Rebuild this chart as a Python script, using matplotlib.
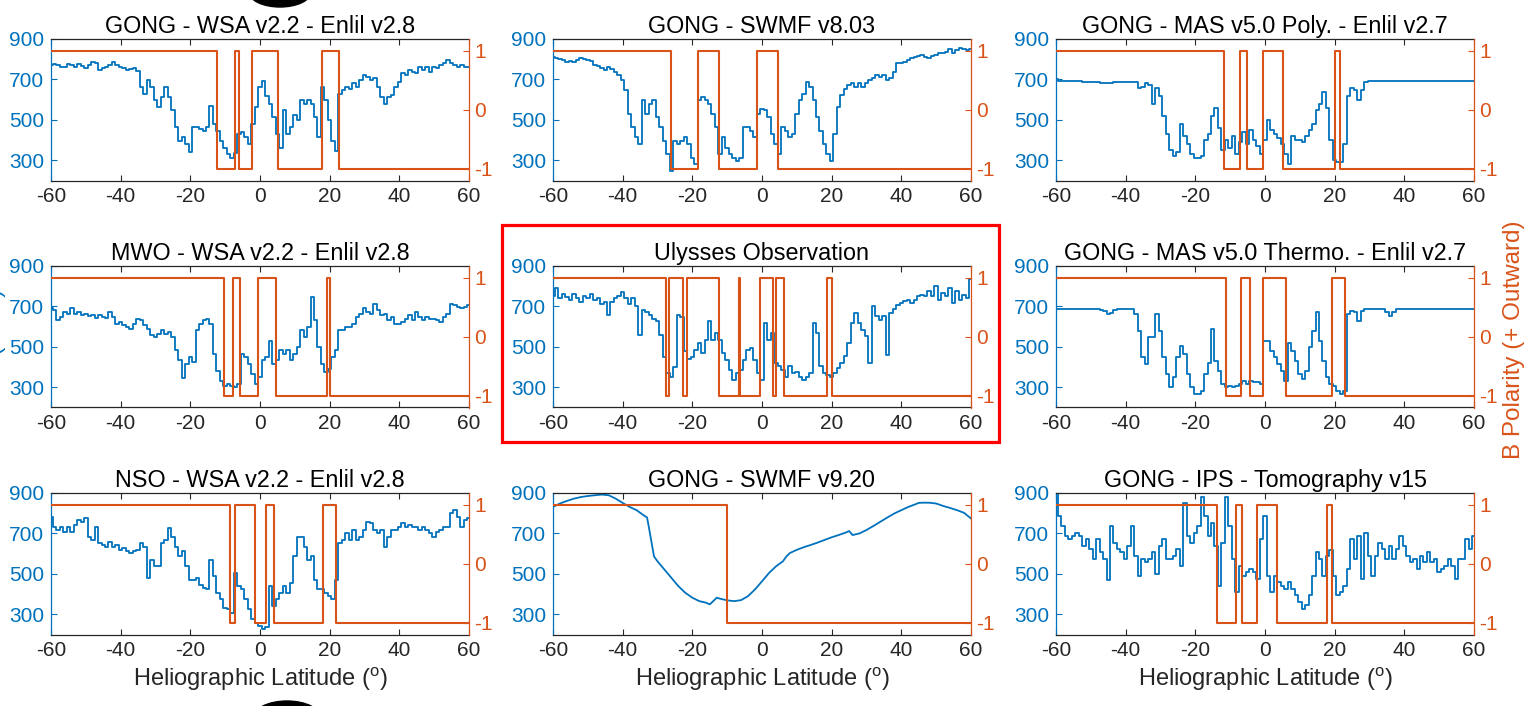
import numpy as np
import matplotlib
matplotlib.use('Agg')
import matplotlib.pyplot as plt
from matplotlib.patches import Rectangle, Ellipse

plt.rcParams['font.family'] = ['Liberation Sans', 'DejaVu Sans']
plt.rcParams['mathtext.fontset'] = 'custom'
plt.rcParams['mathtext.rm'] = 'Liberation Sans'
plt.rcParams['mathtext.it'] = 'Liberation Sans'
plt.rcParams['axes.unicode_minus'] = False

BLUE = '#0072BD'
ORANGE = '#D95319'
DARK = '#262626'

# ---------------- data ----------------
lat_1deg = list(range(-60, 61))
x_ticks = [-60, -40, -20, 0, 20, 40, 60]
speed_ticks = [300, 500, 700, 900]
pol_ticks = [-1, 0, 1]

titles = [
    "GONG - WSA v2.2 - Enlil v2.8",
    "GONG - SWMF v8.03",
    "GONG - MAS v5.0 Poly. - Enlil v2.7",
    "MWO - WSA v2.2 - Enlil v2.8",
    "Ulysses Observation",
    "GONG - MAS v5.0 Thermo. - Enlil v2.7",
    "NSO - WSA v2.2 - Enlil v2.8",
    "GONG - SWMF v9.20",
    "GONG - IPS - Tomography v15",
]

speed_gong_wsa = [
    770, 775, 772, 760, 763, 775, 770, 760, 775, 765,
    755, 770, 788, 780, 747, 755, 763, 770, 788, 770,
    763, 755, 747, 750, 755, 740, 663, 630, 697, 663,
    597, 563, 613, 663, 613, 547, 463, 397, 413, 380,
    340, 463, 463, 455, 447, 463, 570, 480, 447, 397,
    363, 330, 313, 338, 430, 438, 413, 380, 480, 563,
    663, 690, 620, 580, 513, 430, 363, 547, 430, 463,
    522, 497, 597, 580, 597, 580, 513, 413, 663, 597,
    497, 397, 347, 630, 647, 663, 655, 680, 663, 697,
    722, 713, 697, 705, 663, 613, 580, 613, 622, 663,
    688, 730, 722, 747, 738, 730, 763, 747, 763, 738,
    763, 755, 772, 780, 797, 780, 772, 763, 772, 763,
    763]
pol_lat_gong_wsa = [-60, -12.4, -7.3, -6.1, -2.2, 5.2, 17.7, 22.8, 60]
pol_val_gong_wsa = [1, -1, 1, -1, 1, -1, 1, -1, -1]

speed_swmf803 = [
    810, 805, 800, 795, 788, 790, 788, 795, 805, 800,
    797, 790, 772, 765, 755, 745, 763, 750, 738, 722,
    697, 647, 530, 463, 413, 380, 597, 530, 580, 597,
    513, 463, 397, 330, 245, 397, 380, 397, 413, 380,
    313, 280, 597, 613, 597, 580, 530, 463, 330, 413,
    363, 330, 313, 297, 313, 463, 463, 447, 413, 530,
    555, 547, 513, 430, 380, 330, 463, 447, 413, 430,
    530, 597, 630, 688, 663, 597, 513, 447, 380, 330,
    297, 430, 563, 622, 655, 672, 680, 663, 680, 663,
    680, 697, 705, 722, 713, 722, 697, 705, 738, 780,
    780, 788, 797, 805, 813, 817, 822, 810, 805, 817,
    822, 830, 830, 838, 850, 833, 847, 855, 850, 847,
    850]
pol_lat_swmf803 = [-60, -26.0, -18.5, -12.3, -1.3, 4.6, 60]
pol_val_swmf803 = [1, -1, 1, -1, 1, -1, -1]

speed_mas_poly = [
    700, 690, 690, 690, 690, 690, 690, 690, 688, 688,
    688, 688, 686, 684, 680, 680, 680, 686, 688, 688,
    688, 688, 688, 685, 660, 665, 683, 670, 580, 660,
    620, 520, 430, 350, 320, 340, 480, 420, 380, 330,
    310, 310, 320, 400, 430, 520, 560, 460, 350, 400,
    360, 420, 330, 390, 440, 380, 450, 400, 370, 330,
    400, 500, 450, 430, 410, 380, 330, 280, 420, 400,
    400, 390, 420, 450, 480, 550, 580, 640, 560, 400,
    300, 290, 290, 380, 620, 660, 650, 600, 650, 685,
    690, 690, 690, 690, 690, 690, 690, 690, 690, 690,
    690, 690, 690, 690, 690, 690, 690, 690, 690, 690,
    690, 690, 690, 690, 690, 690, 690, 690, 690, 690,
    690]
pol_lat_mas_poly = [-60, -11.8, -7.3, -5.3, -0.6, 5.2, 20.0, 21.5, 60]
pol_val_mas_poly = [1, -1, 1, -1, 1, -1, 1, -1, -1]

speed_mwo = [
    690, 681, 632, 648, 673, 665, 690, 665, 673, 656,
    665, 651, 656, 645, 656, 648, 645, 673, 648, 615,
    623, 607, 598, 590, 615, 640, 632, 607, 590, 557,
    549, 565, 582, 565, 574, 549, 482, 433, 345, 416,
    449, 425, 582, 615, 632, 640, 615, 466, 383, 333,
    308, 317, 308, 300, 317, 466, 449, 416, 366, 317,
    350, 433, 449, 530, 416, 433, 482, 466, 482, 433,
    466, 499, 582, 549, 598, 748, 632, 499, 416, 375,
    391, 449, 482, 582, 582, 598, 598, 615, 648, 665,
    690, 673, 665, 714, 681, 656, 665, 632, 648, 615,
    615, 623, 640, 656, 632, 673, 648, 632, 648, 640,
    640, 632, 623, 648, 665, 714, 706, 698, 690, 698,
    706]
pol_lat_mwo = [-60, -10.2, -7.8, -5.8, -0.7, 4.6, 19.3, 20.2, 60]
pol_val_mwo = [1, -1, 1, -1, 1, -1, 1, -1, -1]

speed_ulysses = [
    750, 790, 740, 760, 745, 730, 760, 740, 720, 750,
    740, 760, 730, 740, 710, 720, 660, 720, 740, 750,
    770, 740, 710, 740, 700, 560, 680, 670, 660, 640,
    630, 560, 450, 370, 350, 400, 660, 650, 480, 440,
    450, 486, 519, 469, 535, 630, 535, 569, 535, 469,
    436, 386, 337, 370, 386, 436, 486, 494, 436, 370,
    337, 620, 535, 569, 420, 403, 386, 353, 403, 370,
    378, 353, 337, 353, 370, 618, 569, 403, 370, 362,
    353, 370, 395, 420, 453, 519, 618, 668, 618, 585,
    552, 420, 701, 651, 635, 651, 460, 668, 685, 709,
    718, 726, 734, 718, 734, 751, 759, 751, 776, 751,
    801, 734, 768, 751, 792, 718, 776, 734, 759, 743,
    834]
pol_lat_ulysses = [-60, -27.6, -26.8, -22.8, -21.4, -12.3, -6.55, -6.45,
                   -0.6, 3.1, 3.9, 6.2, 18.6, 20.1, 60]
pol_val_ulysses = [1, -1, 1, -1, 1, -1, 1, -1, 1, -1, 1, -1, 1, -1, -1]

speed_mas_thermo = [
    686, 686, 686, 686, 686, 686, 686, 686, 686, 686,
    686, 686, 686, 684, 678, 665, 668, 680, 686, 686,
    686, 686, 686, 662, 579, 448, 415, 547, 547, 662,
    579, 448, 366, 300, 349, 448, 505, 464, 366, 300,
    267, 267, 283, 366, 420, 590, 430, 380, 316, 300,
    308, 300, 308, 316, 333, 316, 333, 325, 325, 316,
    530, 530, 481, 448, 415, 382, 333, 520, 480, 431,
    366, 340, 382, 497, 579, 670, 530, 431, 349, 316,
    308, 283, 267, 283, 662, 678, 670, 629, 678, 686,
    686, 686, 686, 686, 686, 670, 655, 670, 686, 686,
    686, 686, 686, 686, 686, 686, 686, 686, 686, 686,
    686, 686, 686, 686, 686, 686, 686, 686, 686, 686,
    686]
pol_lat_mas_thermo = [-60, -11.1, -6.8, -4.3, -0.6, 5.9, 19.1, 22.9, 60]
pol_val_mas_thermo = [1, -1, 1, -1, 1, -1, 1, -1, -1]

speed_nso = [
    782, 733, 717, 733, 709, 733, 709, 741, 766, 758,
    774, 684, 668, 733, 652, 643, 635, 660, 635, 643,
    619, 627, 611, 602, 611, 619, 652, 635, 480, 570,
    537, 537, 652, 668, 725, 684, 635, 586, 611, 537,
    472, 472, 480, 447, 431, 423, 570, 488, 406, 374,
    333, 324, 308, 504, 439, 423, 374, 324, 275, 259,
    243, 226, 235, 439, 341, 374, 406, 439, 406, 455,
    586, 684, 684, 635, 570, 586, 472, 423, 423, 406,
    390, 374, 472, 652, 668, 701, 668, 717, 668, 684,
    717, 758, 750, 717, 701, 717, 635, 684, 717, 717,
    733, 750, 733, 741, 733, 733, 717, 733, 717, 701,
    684, 709, 717, 733, 733, 799, 815, 782, 733, 766,
    774]
pol_lat_nso = [-60, -8.7, -7.1, -1.3, 1.6, 4.0, 18.0, 21.7, 60]
pol_val_nso = [1, -1, 1, -1, 1, -1, 1, -1, -1]

lat_swmf920 = [
    -60, -58, -56, -54, -52, -50, -48, -46, -44, -42,
    -40, -38, -36, -34, -33, -32.5, -32, -31.5, -31, -30,
    -28, -26, -24, -22, -20, -18, -16, -15, -14, -13,
    -12, -10, -8, -6, -4, -2, 0, 2, 4, 6,
    7, 8, 10, 12, 14, 16, 18, 20, 22, 24,
    25, 26, 28, 30, 32, 34, 36, 38, 40, 42,
    44, 45, 46, 48, 50, 52, 54, 56, 58, 60]
speed_swmf920 = [
    831, 848, 861, 872, 880, 885, 889, 892, 889, 872,
    851, 831, 815, 790, 779, 733, 684, 635, 586, 562,
    521, 480, 439, 406, 382, 365, 357, 349, 365, 382,
    377, 369, 365, 370, 390, 423, 463, 504, 537, 562,
    586, 603, 619, 632, 643, 655, 668, 681, 692, 704,
    712, 692, 700, 717, 737, 758, 779, 799, 815, 831,
    844, 851, 852, 852, 848, 836, 826, 815, 802, 774]
pol_lat_swmf920 = [-60, -10.1, 60]
pol_val_swmf920 = [1, -1, -1]

speed_ips = [
    900, 786, 737, 687, 671, 687, 704, 687, 638, 671,
    622, 573, 671, 606, 573, 470, 737, 655, 622, 606,
    573, 638, 737, 589, 491, 573, 557, 573, 606, 500,
    638, 671, 573, 573, 589, 622, 540, 850, 687, 655,
    704, 737, 880, 786, 687, 753, 638, 442, 655, 880,
    737, 573, 409, 540, 491, 508, 524, 508, 475, 671,
    786, 491, 409, 491, 459, 442, 426, 459, 426, 393,
    360, 328, 344, 393, 491, 606, 573, 491, 589, 620,
    491, 393, 409, 442, 524, 671, 573, 687, 475, 704,
    589, 491, 589, 655, 622, 573, 638, 573, 622, 687,
    638, 589, 557, 573, 524, 589, 557, 606, 557, 573,
    508, 524, 540, 573, 540, 475, 573, 573, 671, 622,
    687]
pol_lat_ips = [-60, -13.7, -8.2, -6.6, -2.2, 3.5, 17.7, 19.3, 60]
pol_val_ips = [1, -1, 1, -1, 1, -1, 1, -1, -1]

panels = [
    (lat_1deg, speed_gong_wsa, pol_lat_gong_wsa, pol_val_gong_wsa, 'steps-mid'),
    (lat_1deg, speed_swmf803, pol_lat_swmf803, pol_val_swmf803, 'steps-mid'),
    (lat_1deg, speed_mas_poly, pol_lat_mas_poly, pol_val_mas_poly, 'steps-mid'),
    (lat_1deg, speed_mwo, pol_lat_mwo, pol_val_mwo, 'steps-mid'),
    (lat_1deg, speed_ulysses, pol_lat_ulysses, pol_val_ulysses, 'steps-mid'),
    (lat_1deg, speed_mas_thermo, pol_lat_mas_thermo, pol_val_mas_thermo, 'steps-mid'),
    (lat_1deg, speed_nso, pol_lat_nso, pol_val_nso, 'steps-mid'),
    (lat_swmf920, speed_swmf920, pol_lat_swmf920, pol_val_swmf920, 'default'),
    (lat_1deg, speed_ips, pol_lat_ips, pol_val_ips, 'steps-mid'),
]

# ---------------- layout ----------------
W, H = 1531, 706
fig = plt.figure(figsize=(W / 100, H / 100), dpi=100)
fig.patch.set_facecolor('white')

col_left = [51, 553, 1056]
row_top = [39, 266, 493]
ax_w, ax_h = 418, 141.5

TICK_FS = 15
TITLE_FS = 16.8
LABEL_FS = 17

for i, (lat, spd, plat, pval, dstyle) in enumerate(panels):
    r, c = divmod(i, 3)
    l = col_left[c] / W
    b = 1 - (row_top[r] + ax_h) / H
    ax = fig.add_axes([l, b, ax_w / W, ax_h / H])
    ax.plot(lat, spd, color=BLUE, lw=1.3, drawstyle=dstyle, zorder=2)
    ax.set_xlim(-60, 60)
    ax.set_ylim(200, 900)
    ax.set_xticks(x_ticks)
    ax.set_yticks(speed_ticks)
    ax.tick_params(axis='x', direction='in', top=True, bottom=True, length=4.5,
                   width=0.8, color=DARK, labelcolor=DARK, labelsize=TICK_FS, pad=5)
    ax.tick_params(axis='y', direction='in', left=True, right=False, length=4.5,
                   width=0.8, color=BLUE, labelcolor=BLUE, labelsize=TICK_FS, pad=5)
    for s in ('top', 'bottom'):
        ax.spines[s].set_color(DARK)
        ax.spines[s].set_linewidth(0.9)
    ax.spines['left'].set_color(BLUE)
    ax.spines['left'].set_linewidth(0.9)
    ax.spines['right'].set_visible(False)
    ax.set_title(titles[i], fontsize=TITLE_FS, color='black', pad=4)

    ax2 = ax.twinx()
    ax2.step(plat, pval, where='post', color=ORANGE, lw=1.5)
    ax2.set_ylim(-1.2, 1.2)
    ax2.set_yticks(pol_ticks)
    ax2.tick_params(axis='y', direction='in', right=True, left=False, length=4.5,
                    width=0.8, color=ORANGE, labelcolor=ORANGE, labelsize=TICK_FS, pad=4)
    for s in ('top', 'bottom', 'left'):
        ax2.spines[s].set_visible(False)
    ax2.spines['right'].set_color(ORANGE)
    ax2.spines['right'].set_linewidth(0.9)

    if r == 2:
        ax.set_xlabel('Heliographic Latitude ($^{\\mathrm{o}}$)', fontsize=LABEL_FS,
                      color=DARK, labelpad=4)

# Right shared label
fig.text(1514 / W, 1 - 340 / H, 'B Polarity (+ Outward)', rotation=90,
         ha='center', va='center', color=ORANGE, fontsize=17.5)
# Left label, mostly cut off by the image edge as in the source picture
fig.text(6 / W, 1 - 333 / H, 'V (km/s)', rotation=90,
         ha='right', va='center', color=BLUE, fontsize=LABEL_FS)

# Red highlight box around the observation panel
fig.add_artist(Rectangle((502 / W, 1 - 442 / H), (999 - 502) / W, (442 - 225) / H,
                         transform=fig.transFigure, fill=False, edgecolor='#FF0000',
                         lw=2.3))

# Black blobs at the top and bottom edges
fig.add_artist(Ellipse((280 / W, 1 + 8 / H), 62 / W, 30 / H,
                       transform=fig.transFigure, color='black'))
fig.add_artist(Ellipse((287 / W, 1 - 718 / H), 68 / W, 34 / H,
                       transform=fig.transFigure, color='black'))

fig.savefig('out.png', dpi=100)
